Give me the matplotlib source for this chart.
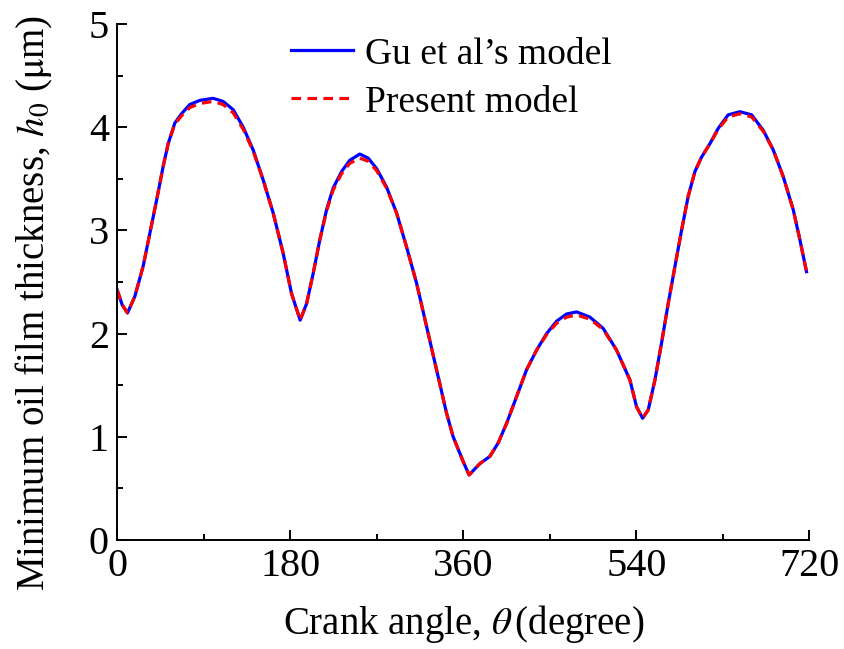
import numpy as np
import matplotlib
matplotlib.use("Agg")
from matplotlib import pyplot as plt

plt.rcParams['font.family'] = ['Liberation Serif', 'DejaVu Serif']
plt.rcParams['mathtext.fontset'] = 'stix'

# crank angle (deg) and minimum film thickness (um)
crank_angle = [0, 5, 10.6, 18.2, 26.8, 33.8, 40.8, 47.7, 52.9, 59.8, 66.8, 75.4,
               85.8, 99.7, 110, 120.5, 131, 141.3, 151.7, 162.1, 172.5, 181.2,
               190.2, 196.9, 203.7, 210.7, 217.7, 224.5, 233.3, 241.9, 252.3, 261,
               269.7, 280.1, 290.5, 300.9, 311.3, 321.7, 332.1, 342.5, 349.4, 359.8,
               366, 377.2, 387.6, 396.2, 405, 415.4, 425.8, 436.2, 446.6, 457,
               467.4, 477.8, 491.6, 505.5, 519.4, 533.3, 540.2, 546.5, 552.3, 559.3,
               566.2, 573.1, 580.1, 587, 593.9, 600.9, 607.8, 616.5, 625.2, 635.5,
               647.7, 659.9, 672, 682.4, 692.8, 703.2, 710.1, 717]
gu_model = [2.42, 2.28, 2.20, 2.36, 2.65, 2.97, 3.29, 3.62, 3.84, 4.04, 4.13, 4.22,
            4.26, 4.28, 4.25, 4.17, 4.00, 3.78, 3.49, 3.17, 2.78, 2.39,
            2.13, 2.29, 2.58, 2.91, 3.20, 3.41, 3.57, 3.68, 3.74, 3.70,
            3.60, 3.42, 3.17, 2.84, 2.49, 2.07, 1.65, 1.23, 1.00, 0.76,
            0.63, 0.74, 0.81, 0.94, 1.13, 1.39, 1.65, 1.84, 2.00, 2.12,
            2.19, 2.21, 2.16, 2.05, 1.84, 1.55, 1.29, 1.18, 1.26, 1.55,
            1.91, 2.29, 2.65, 3.00, 3.33, 3.57, 3.71, 3.84, 3.99, 4.12,
            4.15, 4.12, 3.97, 3.78, 3.52, 3.20, 2.91, 2.60]
present_model = [2.42, 2.28, 2.20, 2.36, 2.65, 2.97, 3.29, 3.62, 3.84, 4.03, 4.11, 4.19,
                 4.23, 4.25, 4.22, 4.14, 3.98, 3.77, 3.49, 3.17, 2.78, 2.39,
                 2.13, 2.29, 2.58, 2.91, 3.19, 3.39, 3.55, 3.65, 3.70, 3.67,
                 3.58, 3.41, 3.17, 2.84, 2.49, 2.07, 1.65, 1.23, 1.00, 0.76,
                 0.63, 0.74, 0.81, 0.94, 1.13, 1.39, 1.65, 1.84, 1.99, 2.10,
                 2.16, 2.18, 2.14, 2.04, 1.84, 1.55, 1.29, 1.18, 1.26, 1.55,
                 1.91, 2.29, 2.65, 3.00, 3.33, 3.57, 3.71, 3.84, 3.98, 4.10,
                 4.13, 4.10, 3.96, 3.78, 3.52, 3.20, 2.91, 2.60]

fig = plt.figure(figsize=(8.44, 6.49), dpi=100)
ax = fig.add_axes([0.139, 0.168, 0.82, 0.795])

ax.plot(crank_angle, gu_model, color='#0000ff', lw=2.3, label="Gu et al\u2019s model")
ax.plot(crank_angle, present_model, color='#ff0000', lw=2.3, ls=(0, (3, 2)),
        label="Present model")

ax.set_xlim(0, 720)
ax.set_ylim(0, 5)
ax.set_xticks([0, 180, 360, 540, 720])
ax.set_xticks([90, 270, 450, 630], minor=True)
ax.set_yticks([0, 1, 2, 3, 4, 5])
ax.set_yticks(np.arange(0.5, 5, 1), minor=True)

for s in ['top', 'right']:
    ax.spines[s].set_visible(False)
for s in ['left', 'bottom']:
    ax.spines[s].set_linewidth(1.4)
ax.tick_params(which='major', direction='in', length=7.5, width=1.4,
               labelsize=29, pad=6)
ax.tick_params(which='minor', direction='in', length=4.5, width=1.4)

ax.set_xlabel(r"Crank angle, $\theta\,$(degree)", fontsize=28, labelpad=13)
ax.set_ylabel(r"Minimum oil film thickness, $h_0$ ($\mathrm{\mu}$m)", fontsize=28)
ax.yaxis.set_label_coords(-0.09, 0.46)

leg = ax.legend(loc='upper left', bbox_to_anchor=(0.202, 1.04), frameon=False,
                fontsize=27, handlelength=1.65, handletextpad=0.32, labelspacing=0.36)

fig.savefig("out.png", dpi=100, facecolor='white')
